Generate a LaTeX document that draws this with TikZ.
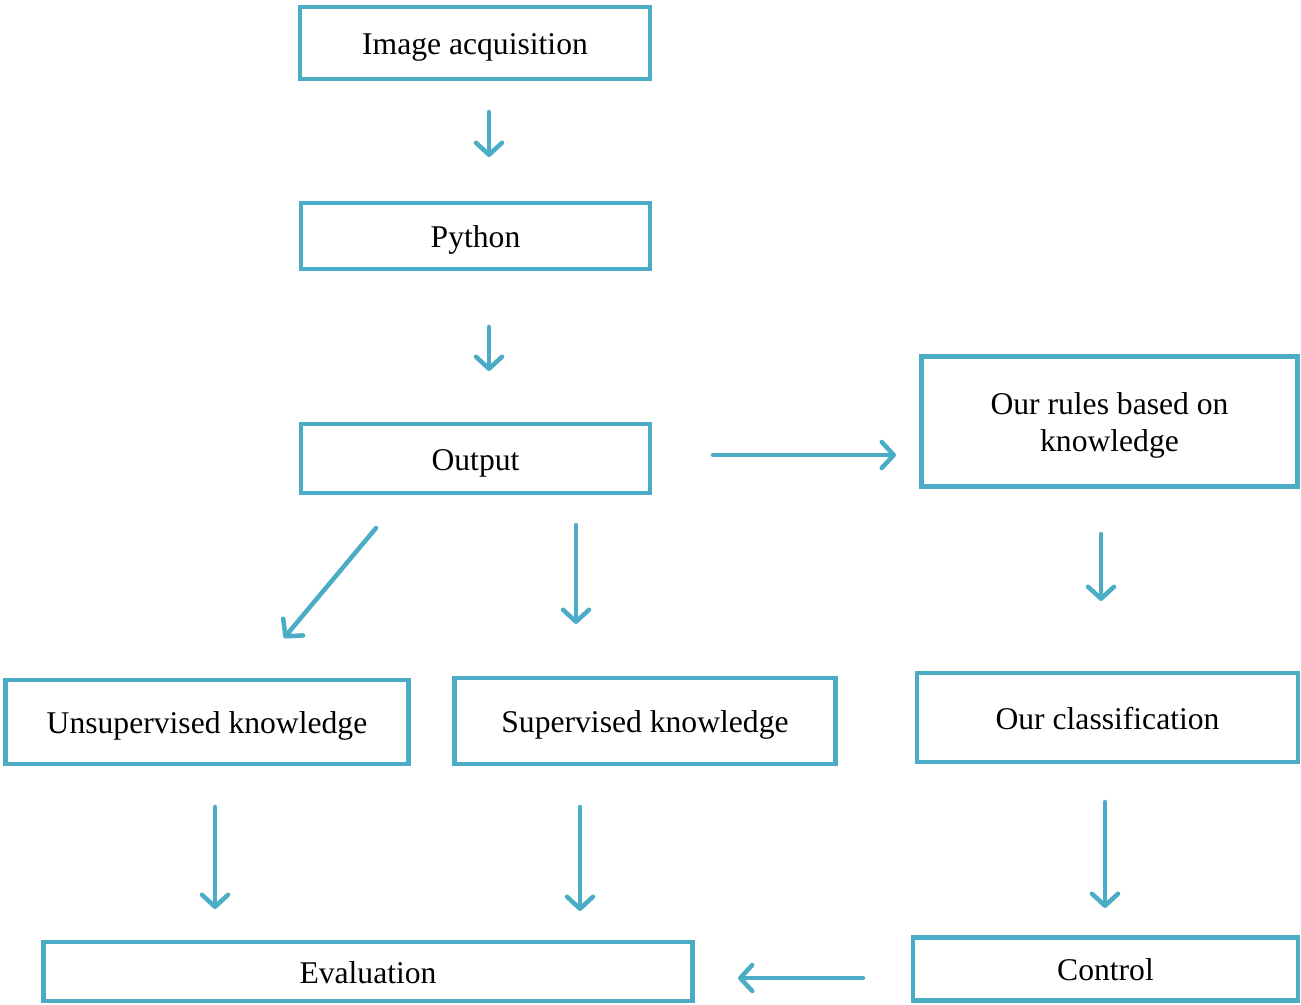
\documentclass[tikz,border=0pt]{standalone}
\usepackage{fontspec}
\setmainfont{Liberation Serif}
\usetikzlibrary{arrows.meta,positioning}
\definecolor{flowblue}{HTML}{4BACC6}

\begin{document}
\begin{tikzpicture}[
  x=0.02cm, y=-0.02cm,
  stage/.style={rectangle, draw=flowblue, line width=0.09cm,
    inner sep=2pt, align=center, text height=0.6cm, text depth=0.14cm,
    font=\fontsize{18}{21}\selectfont},
  flow/.style={draw=flowblue, line width=0.09cm, line cap=round,
    -{Straight Barb[round, length=0.24cm, width=0.52cm]}},
]
  \useasboundingbox (0,0) rectangle (1301,1004);

  % === LEFT COLUMN (stacked) ===
  \node[stage, minimum width=7.0cm, minimum height=1.44cm] (acq)  at (475,43)  {Image acquisition};
  \node[stage, minimum width=6.98cm, minimum height=1.32cm] (py)   at (475.5,236) {Python};
  \node[stage, minimum width=6.98cm, minimum height=1.38cm] (out) at (475.5,458.5) {Output};

  % === LOWER ROW ===
  \node[stage, minimum width=8.06cm, minimum height=1.68cm] (unsup) at (207,722) {Unsupervised knowledge};
  \node[stage, minimum width=7.62cm, minimum height=1.72cm] (sup)   at (645,721) {Supervised knowledge};
  \node[stage, minimum width=12.98cm, minimum height=1.18cm] (eval) at (368,971.5) {Evaluation};

  % === RIGHT COLUMN ===
  \node[stage, text height=, text depth=, minimum width=7.52cm, minimum height=2.6cm] (rules) at (1109.5,421.5)
    {\raisebox{-0.08cm}[\height][\depth]{\begin{tabular}{@{}c@{}}Our rules based on\\knowledge\end{tabular}}};
  \node[stage, minimum width=7.62cm, minimum height=1.78cm] (cls)   at (1107.5,717.5) {Our classification};
  \node[stage, minimum width=7.7cm, minimum height=1.26cm] (ctrl)  at (1105.5,969) {Control};

  % === free arrow ends ===
  \coordinate (a1s) at (489,112);  \coordinate (a1e) at (489,157);
  \coordinate (a2s) at (489,327);  \coordinate (a2e) at (489,371);
  \coordinate (a3s) at (713,455);  \coordinate (a3e) at (896,455);
  \coordinate (a4s) at (376,528);  \coordinate (a4e) at (284,638);
  \coordinate (a5s) at (576,525);  \coordinate (a5e) at (576,624);
  \coordinate (a6s) at (1101,534); \coordinate (a6e) at (1101,601);
  \coordinate (a7s) at (215,807);  \coordinate (a7e) at (215,909);
  \coordinate (a8s) at (580,807);  \coordinate (a8e) at (580,911);
  \coordinate (a9s) at (1105,802); \coordinate (a9e) at (1105,908);
  \coordinate (a10s) at (863,978); \coordinate (a10e) at (738,978);

  % === arrows ===
  \path[flow] (a1s) -- (a1e);
  \path[flow] (a2s) -- (a2e);
  \path[flow] (a3s) -- (a3e);
  \path[flow] (a4s) -- (a4e);
  \path[flow] (a5s) -- (a5e);
  \path[flow] (a6s) -- (a6e);
  \path[flow] (a7s) -- (a7e);
  \path[flow] (a8s) -- (a8e);
  \path[flow] (a9s) -- (a9e);
  \path[flow] (a10s) -- (a10e);

\end{tikzpicture}
\end{document}
